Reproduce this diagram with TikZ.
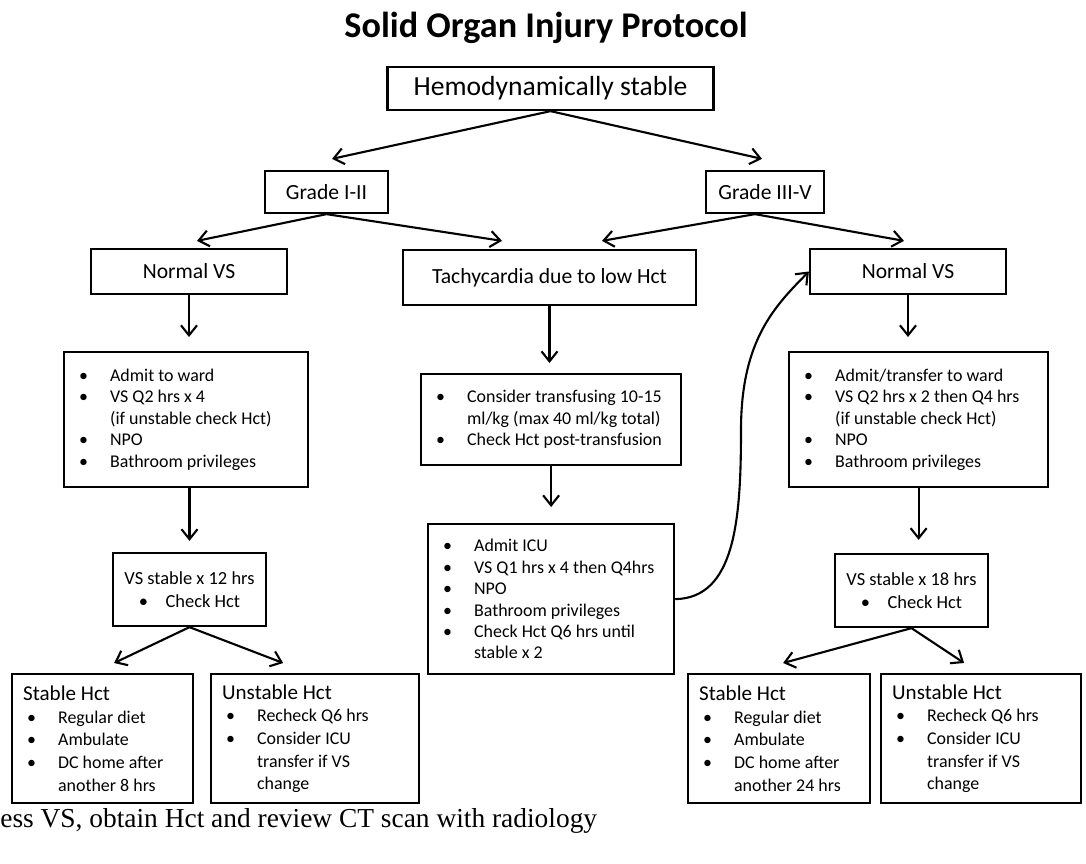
\documentclass[tikz,border=0pt]{standalone}
\usepackage{fontspec}
\usepackage{graphicx}
\setmainfont{Carlito}
\newfontfamily\footfont{Liberation Serif}
\usetikzlibrary{arrows.meta}

% font sizes
\newcommand{\hemosize}{\fontsize{15.7}{18}\selectfont}
\newcommand{\midsize}{\fontsize{12.3}{14}\selectfont}
\newcommand{\listsize}{\fontsize{10.2}{12.2}\selectfont}
\newcommand{\outsize}{\fontsize{10.2}{12.9}\selectfont}
\newcommand{\headsize}{\fontsize{12}{12.9}\selectfont}

% bullets
\newcommand{\bitem}[1]{\hspace*{0.24cm}\makebox[0.62cm][l]{\textbullet}#1}
\newcommand{\bcont}[1]{\hspace*{0.86cm}#1}
\newcommand{\shead}[1]{\hspace*{0.16cm}{\headsize #1}}
\newcommand{\sitem}[1]{\hspace*{0.24cm}\makebox[0.62cm][l]{\textbullet}#1}
\newcommand{\scont}[1]{\hspace*{0.86cm}#1}

\begin{document}
\begin{tikzpicture}[x=0.02cm, y=-0.02cm, >={Straight Barb[length=0.2cm,width=0.32cm]},
	box/.style={draw, line width=1.3pt, inner sep=0pt, align=center},
	listbox/.style={draw, line width=1.3pt, anchor=north west, align=flush left, inner xsep=0.06cm, inner ysep=0pt},
	arr/.style={->, line width=1.2pt}]
	% Frame
	\useasboundingbox (0,0) rectangle (1086,863);
	
	% Title
	\node[anchor=base, font=\bfseries\fontsize{20.6}{24}\selectfont] (title) at (546,37) {Solid Organ Injury Protocol};
	
	% Upper levels
	\node[box, minimum width=6.52cm, minimum height=0.86cm, font=\hemosize] (hemo) at (550.5,88.5) {Hemodynamically stable};
	\node[box, minimum width=2.46cm, minimum height=0.84cm, font=\midsize] (gradeA) at (326.5,192) {Grade I-II};
	\node[box, minimum width=2.36cm, minimum height=0.84cm, font=\midsize] (gradeB) at (765,192) {Grade III-V};
	\node[box, minimum width=3.92cm, minimum height=0.9cm, font=\midsize] (normalA) at (189,271.5) {Normal VS};
	\node[box, minimum width=5.86cm, minimum height=1.1cm, font=\midsize] (tachy) at (549.5,277.5) {Tachycardia due to low Hct};
	\node[box, minimum width=3.92cm, minimum height=0.9cm, font=\midsize] (normalB) at (908,271.5) {Normal VS};
	
	% Orders
	\node[listbox, text width=4.76cm, minimum height=2.7cm, font=\listsize] (wardA) at (63,351) {%
		\bitem{Admit to ward}\\
		\bitem{VS Q2 hrs x 4}\\
		\bcont{(if unstable check Hct)}\\
		\bitem{NPO}\\
		\bitem{Bathroom privileges}};
	\node[listbox, text width=5.08cm, minimum height=1.82cm, font=\listsize] (transf) at (420,373) {%
		\bitem{Consider transfusing 10-15}\\
		\bcont{ml/kg (max 40 ml/kg total)}\\
		\bitem{Check Hct post-transfusion}};
	\node[listbox, text width=5.06cm, minimum height=2.7cm, font=\listsize] (wardB) at (788,351) {%
		\bitem{Admit/transfer to ward}\\
		\bitem{VS Q2 hrs x 2 then Q4 hrs}\\
		\bcont{(if unstable check Hct)}\\
		\bitem{NPO}\\
		\bitem{Bathroom privileges}};
	\node[listbox, text width=4.8cm, minimum height=3cm, font=\listsize] (icu) at (427,523) {%
		\bitem{Admit ICU}\\
		\bitem{VS Q1 hrs x 4 then Q4hrs}\\
		\bitem{NPO}\\
		\bitem{Bathroom privileges}\\
		\bitem{Check Hct Q6 hrs until}\\
		\bcont{stable x 2}};
	
	% Observation
	\node[box, minimum width=3.06cm, minimum height=1.46cm, font=\fontsize{10.5}{13}\selectfont] (stab12) at (189.5,589.5) {VS stable x 12 hrs\\ \textbullet\hspace{0.35cm}Check Hct};
	\node[box, minimum width=3.06cm, minimum height=1.46cm, font=\fontsize{10.5}{13}\selectfont] (stab18) at (911.5,590.5) {VS stable x 18 hrs\\ \textbullet\hspace{0.35cm}Check Hct};
	
	% Outcomes
	\node[listbox, text width=3.5cm, minimum height=2.58cm, font=\outsize] (stableA) at (11,673) {%
		\shead{Stable Hct}\\
		\sitem{Regular diet}\\
		\sitem{Ambulate}\\
		\sitem{DC home after}\\
		\scont{another 8 hrs}};
	\node[listbox, text width=4.04cm, minimum height=2.58cm, font=\outsize] (unstableA) at (210,673) {%
		\shead{Unstable Hct}\\
		\sitem{Recheck Q6 hrs}\\
		\sitem{Consider ICU}\\
		\scont{transfer if VS}\\
		\scont{change}};
	\node[listbox, text width=3.52cm, minimum height=2.58cm, font=\outsize] (stableB) at (687,673) {%
		\shead{Stable Hct}\\
		\sitem{Regular diet}\\
		\sitem{Ambulate}\\
		\sitem{DC home after}\\
		\scont{another 24 hrs}};
	\node[listbox, text width=3.88cm, minimum height=2.58cm, font=\outsize] (unstableB) at (880,673) {%
		\shead{Unstable Hct}\\
		\sitem{Recheck Q6 hrs}\\
		\sitem{Consider ICU}\\
		\scont{transfer if VS}\\
		\scont{change}};
	
	% Footer line
	\node[anchor=west, inner sep=0pt, font=\footfont\fontsize{15.6}{18}\selectfont] (note) at (0,821) {ess VS, obtain Hct and review CT scan with radiology};
	
	% Slanted arrows
	\draw[arr] (hemo.south) -- ([shift={(5.5,-11)}]gradeA.north);
	\draw[arr] (hemo.south) -- ([shift={(-3,-11)}]gradeB.north);
	\draw[arr] (gradeA.south) -- ([shift={(8,-7)}]normalA.north);
	\draw[arr] (gradeA.south) -- ([shift={(-47.5,-8)}]tachy.north);
	\draw[arr] ([shift={(-10,0)}]gradeB.south) -- ([shift={(52.5,-8)}]tachy.north);
	\draw[arr] ([shift={(-10,0)}]gradeB.south) -- ([shift={(-4,-7)}]normalB.north);
	
	% Straight arrows
	\draw[arr, shorten >=0.28cm] (normalA.south) -- (normalA.south |- wardA.north);
	\draw[arr, shorten >=0.2cm] (tachy.south) -- (tachy.south |- transf.north);
	\draw[arr, shorten >=0.28cm] (normalB.south) -- (normalB.south |- wardB.north);
	\draw[arr, shorten >=0.32cm] (transf.south) -- (transf.south |- icu.north);
	\draw[arr, shorten >=0.22cm] (wardA.south -| stab12.north) -- (stab12.north);
	\draw[arr, shorten >=0.26cm] (wardB.south) -- (wardB.south |- stab18.north);
	
	% To the outcomes
	\draw[arr] (stab12.south) -- ([shift={(11.5,-10)}]stableA.north);
	\draw[arr] (stab12.south) -- ([shift={(-32,-10)}]unstableA.north);
	\draw[arr] (stab18.south) -- ([shift={(4,-10)}]stableB.north);
	\draw[arr] (stab18.south) -- ([shift={(-17,-10)}]unstableB.north);
	
	% ICU back to normal VS
	\draw[arr] (icu.east) .. controls (735,598) and (741,520) .. (741,430)
		.. controls (741,340) and (775,306) .. (normalB.west);
\end{tikzpicture}
\end{document}
